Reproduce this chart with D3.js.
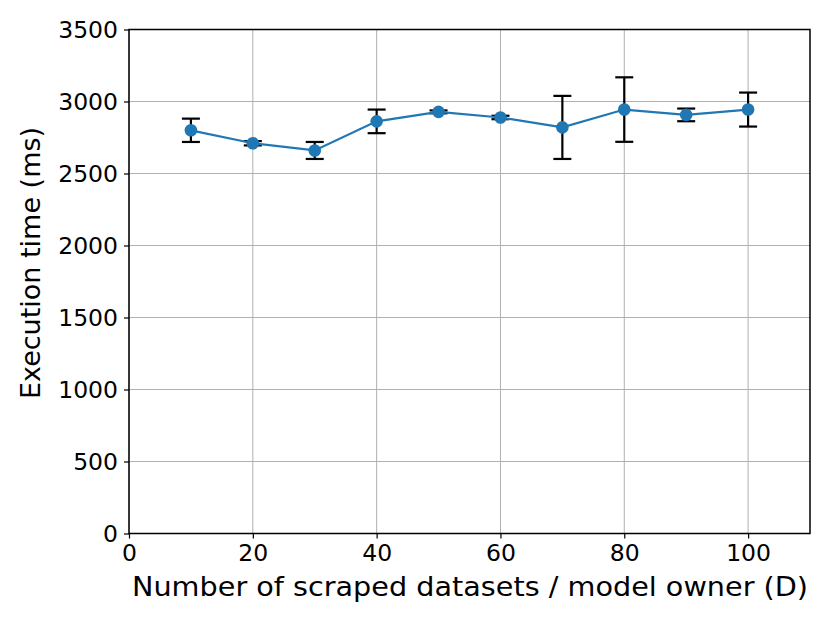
<!DOCTYPE html>
<html><head><meta charset="utf-8">
<script src="https://cdn.jsdelivr.net/npm/d3@7"></script>
<style>body{margin:0;background:#fff}svg{display:block}text{font-family:"DejaVu Sans",sans-serif;fill:#000}</style>
</head><body>
<svg id="c" width="830" height="623"></svg>
<script>
const xValues = [10, 20, 30, 40, 50, 60, 70, 80, 90, 100];
const meanTime = [2800, 2710, 2660, 2862, 2928, 2889, 2820, 2944, 2907, 2944];
const errTime = [81, 15, 59, 82, 10, 12, 219, 224, 44, 118];
const xTicks = [0, 20, 40, 60, 80, 100];
const yTicks = [0, 500, 1000, 1500, 2000, 2500, 3000, 3500];
const xLabel = "Number of scraped datasets / model owner (D)";
const yLabel = "Execution time (ms)";

const L = 129, R = 810, T = 29.5, B = 533.5;
const svg = d3.select("#c");
const x = d3.scaleLinear().domain([0, 110]).range([L, R]);
const y = d3.scaleLinear().domain([0, 3500]).range([B, T]);

// grid
const g = svg.append("g");
g.selectAll(".gx").data(xTicks).join("line")
  .attr("x1", d => x(d)).attr("x2", d => x(d)).attr("y1", T).attr("y2", B)
  .attr("stroke", "#b0b0b0").attr("stroke-width", 1);
g.selectAll(".gy").data(yTicks).join("line")
  .attr("x1", L).attr("x2", R).attr("y1", d => y(d)).attr("y2", d => y(d))
  .attr("stroke", "#b0b0b0").attr("stroke-width", 1);

// axes
const xa = svg.append("g").attr("transform", `translate(0,${B})`)
  .call(d3.axisBottom(x).tickValues(xTicks).tickSize(5).tickPadding(6).tickFormat(d3.format("d")));
const ya = svg.append("g").attr("transform", `translate(${L},0)`)
  .call(d3.axisLeft(y).tickValues(yTicks).tickSize(5).tickPadding(6).tickFormat(d3.format("d")));
[xa, ya].forEach(a => {
  a.select(".domain").remove();
  a.selectAll(".tick line").attr("stroke", "#000").attr("stroke-width", 1.2);
  a.selectAll(".tick text").attr("font-size", 23.5).attr("font-family", "DejaVu Sans");
});
xa.selectAll(".tick text").attr("dy", "0.71em");
// frame
svg.append("rect").attr("x", L).attr("y", T).attr("width", R - L).attr("height", B - T)
  .attr("fill", "none").attr("stroke", "#000").attr("stroke-width", 1.5);

// error bars
const eb = svg.append("g").attr("stroke", "#000").attr("stroke-width", 2.2);
xValues.forEach((xv, i) => {
  const x0 = x(xv), y1 = y(meanTime[i] + errTime[i]), y2 = y(meanTime[i] - errTime[i]);
  eb.append("line").attr("x1", x0).attr("x2", x0).attr("y1", y1).attr("y2", y2);
  eb.append("line").attr("x1", x0 - 9).attr("x2", x0 + 9).attr("y1", y1).attr("y2", y1);
  eb.append("line").attr("x1", x0 - 9).attr("x2", x0 + 9).attr("y1", y2).attr("y2", y2);
});

// line
const pts = xValues.map((d, i) => [d, meanTime[i]]);
svg.append("path").datum(pts)
  .attr("d", d3.line().x(d => x(d[0])).y(d => y(d[1])))
  .attr("fill", "none").attr("stroke", "#1f77b4").attr("stroke-width", 2.2);
svg.selectAll(".pt").data(pts).join("circle")
  .attr("cx", d => x(d[0])).attr("cy", d => y(d[1])).attr("r", 6.3).attr("fill", "#1f77b4");

// labels
svg.append("text").attr("x", 470).attr("y", 596).attr("text-anchor", "middle")
  .attr("font-size", 27).attr("textLength", 676).attr("lengthAdjust", "spacingAndGlyphs").text(xLabel);
svg.append("text").attr("transform", "translate(40,263) rotate(-90)").attr("text-anchor", "middle")
  .attr("font-size", 27).text(yLabel);
</script>
</body></html>
